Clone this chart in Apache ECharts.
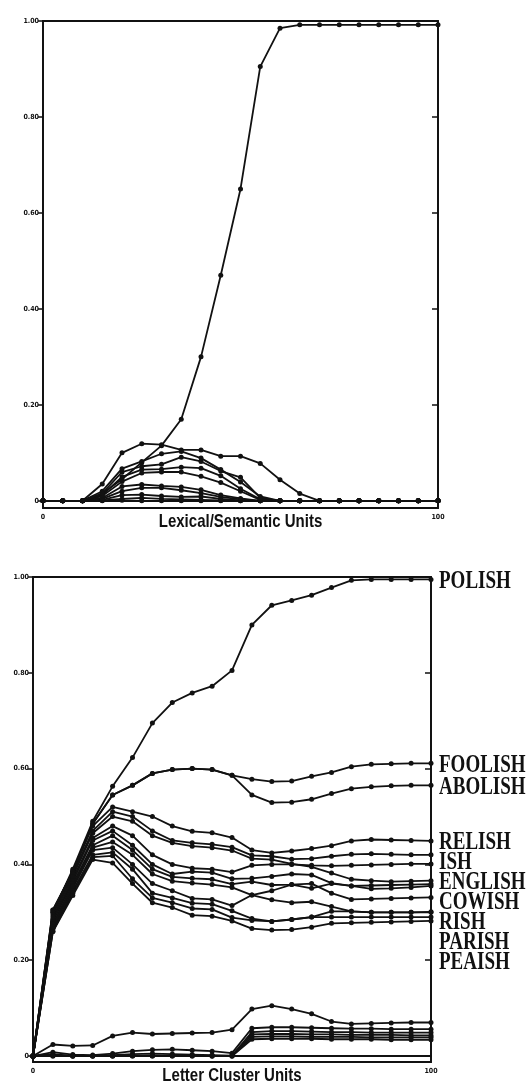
<!DOCTYPE html>
<html>
<head>
<meta charset="utf-8">
<script src="https://cdn.jsdelivr.net/npm/echarts@6/dist/echarts.min.js"></script>
<style>
html,body{margin:0;padding:0;background:#fff;}
#c{width:528px;height:1085px;}
</style>
</head>
<body>
<div id="c"></div>
<script>
// x positions (units)
const units = [0,5,10,15,20,25,30,35,40,45,50,55,60,65,70,75,80,85,90,95,100];
const yTicks = [0,0.2,0.4,0.6,0.8,1.0];
const xTicks = [0,100];
const panelTitles = ['Lexical/Semantic Units', 'Letter Cluster Units'];

// ---- Lexical/Semantic Units (top panel) ----
const lexPolish = [0,0,0,0.015,0.045,0.08,0.115,0.17,0.30,0.47,0.65,0.905,0.985,0.992,0.992,0.992,0.992,0.992,0.992,0.992,0.992];
const lexA = [0,0,0,0.035,0.10,0.119,0.117,0.106,0.106,0.093,0.093,0.078,0.044,0.015,0,0,0,0,0,0,0];
const lexB = [0,0,0,0.02,0.067,0.082,0.098,0.103,0.089,0.065,0.039,0.009,0,0,0,0,0,0,0,0,0];
const lexC = [0,0,0,0.015,0.06,0.072,0.076,0.091,0.082,0.062,0.049,0.006,0,0,0,0,0,0,0,0,0];
const lexD = [0,0,0,0.012,0.05,0.065,0.066,0.07,0.068,0.052,0.025,0.003,0,0,0,0,0,0,0,0,0];
const lexE = [0,0,0,0.01,0.04,0.058,0.06,0.06,0.051,0.038,0.02,0.002,0,0,0,0,0,0,0,0,0];
const lexF = [0,0,0,0.006,0.03,0.034,0.031,0.029,0.023,0.012,0.005,0,0,0,0,0,0,0,0,0,0];
const lexG = [0,0,0,0.004,0.02,0.027,0.027,0.022,0.016,0.008,0.003,0,0,0,0,0,0,0,0,0,0];
const lexH = [0,0,0,0.002,0.012,0.013,0.01,0.008,0.009,0.004,0.001,0,0,0,0,0,0,0,0,0,0];
const lexI = [0,0,0,0.001,0.004,0.006,0.004,0.003,0.002,0.001,0,0,0,0,0,0,0,0,0,0,0];
const lexJ = [0,0,0,0,0.001,0,0,0,0,0,0,0,0,0,0,0,0,0,0,0,0];

// ---- Letter Cluster Units (bottom panel) ----
const letPolish  = [0,0.30,0.39,0.49,0.563,0.623,0.695,0.738,0.758,0.772,0.805,0.90,0.941,0.951,0.962,0.978,0.993,0.995,0.995,0.995,0.995];
const letFoolish = [0,0.305,0.385,0.485,0.545,0.565,0.59,0.598,0.60,0.598,0.586,0.578,0.573,0.574,0.584,0.592,0.604,0.609,0.61,0.611,0.611];
const letAbolish = [0,0.305,0.385,0.485,0.545,0.565,0.59,0.598,0.60,0.598,0.586,0.545,0.529,0.53,0.536,0.548,0.558,0.562,0.564,0.565,0.565];
const letRelish  = [0,0.30,0.385,0.48,0.52,0.51,0.50,0.48,0.469,0.466,0.456,0.43,0.424,0.428,0.433,0.439,0.449,0.452,0.451,0.45,0.449];
const letIsh     = [0,0.295,0.38,0.47,0.51,0.50,0.47,0.45,0.445,0.442,0.436,0.419,0.417,0.411,0.412,0.417,0.421,0.422,0.421,0.42,0.42];
const letCowish  = [0,0.29,0.375,0.465,0.50,0.49,0.46,0.445,0.438,0.435,0.429,0.412,0.41,0.401,0.395,0.382,0.369,0.366,0.364,0.365,0.366];
const letEnglish = [0,0.285,0.37,0.455,0.48,0.46,0.42,0.40,0.392,0.39,0.384,0.398,0.40,0.40,0.398,0.397,0.398,0.399,0.40,0.401,0.401];
const letM5      = [0,0.28,0.365,0.45,0.47,0.44,0.40,0.38,0.385,0.383,0.37,0.371,0.375,0.38,0.378,0.361,0.355,0.349,0.35,0.352,0.355];
const letRish    = [0,0.275,0.36,0.44,0.46,0.43,0.39,0.374,0.371,0.369,0.359,0.364,0.357,0.358,0.36,0.34,0.327,0.328,0.329,0.33,0.331];
const letParish  = [0,0.27,0.355,0.435,0.447,0.42,0.38,0.365,0.361,0.358,0.352,0.336,0.326,0.32,0.322,0.312,0.302,0.30,0.30,0.30,0.301];
const letM8      = [0,0.27,0.35,0.43,0.435,0.40,0.36,0.345,0.329,0.327,0.314,0.336,0.345,0.358,0.35,0.36,0.355,0.356,0.357,0.358,0.359];
const letM9      = [0,0.265,0.345,0.42,0.425,0.39,0.34,0.33,0.319,0.317,0.303,0.287,0.281,0.285,0.29,0.302,0.302,0.30,0.30,0.30,0.30];
const letM10     = [0,0.26,0.34,0.415,0.418,0.37,0.33,0.32,0.308,0.306,0.289,0.283,0.281,0.285,0.29,0.29,0.29,0.29,0.29,0.29,0.29];
const letPeaish  = [0,0.26,0.335,0.41,0.403,0.36,0.32,0.31,0.294,0.292,0.282,0.266,0.263,0.264,0.269,0.277,0.278,0.279,0.28,0.281,0.282];
const letZ1 = [0,0.024,0.021,0.022,0.042,0.049,0.046,0.047,0.048,0.049,0.055,0.098,0.105,0.098,0.088,0.072,0.067,0.068,0.069,0.07,0.07];
const letZ2 = [0,0.008,0.003,0.002,0.005,0.01,0.013,0.014,0.012,0.01,0.006,0.058,0.06,0.06,0.059,0.058,0.057,0.057,0.056,0.056,0.056];
const letZ3 = [0,0.004,0,0,0.002,0.004,0.005,0.004,0.003,0.002,0.001,0.05,0.052,0.052,0.051,0.05,0.05,0.049,0.049,0.049,0.049];
const letZ4 = [0,0.002,0,0,0,0.001,0.001,0.001,0.001,0,0,0.045,0.046,0.046,0.045,0.045,0.044,0.044,0.044,0.043,0.043];
const letZ5 = [0,0,0,0,0,0,0,0,0,0,0,0.04,0.041,0.041,0.04,0.04,0.04,0.039,0.039,0.039,0.039];
const letZ6 = [0,0,0,0,0,0,0,0,0,0,0,0.035,0.036,0.036,0.036,0.035,0.035,0.035,0.034,0.034,0.034];

const labelled = [
  ['POLISH', letPolish], ['FOOLISH', letFoolish], ['ABOLISH', letAbolish],
  ['RELISH', letRelish], ['ISH', letIsh], ['ENGLISH', letEnglish], ['COWISH', letCowish],
  ['RISH', letRish], ['PARISH', letParish], ['PEAISH', letPeaish]
];
const others = [letM5, letM8, letM9, letM10, letZ1, letZ2, letZ3, letZ4, letZ5, letZ6];
const lexAll = [lexJ, lexI, lexH, lexG, lexF, lexE, lexD, lexC, lexB, lexA, lexPolish];

const pairs = arr => arr.map((v, i) => [units[i], v]);
const INK = '#111';
const tickFont = {fontSize: 7, fontWeight: 'bold', color: INK, fontFamily: '"DejaVu Sans Condensed","DejaVu Sans",sans-serif'};

function mkLine(data, xi, yi, name) {
  return {
    type: 'line', name: name || '', xAxisIndex: xi, yAxisIndex: yi, data: pairs(data),
    symbol: 'circle', symbolSize: 5, showSymbol: true,
    lineStyle: {color: INK, width: 1.8}, itemStyle: {color: INK},
    emphasis: {disabled: true}, z: 3
  };
}

function yLeft(gi, min) {
  return {
    type: 'value', gridIndex: gi, position: 'left', min: min, max: 1,
    axisLine: {show: true, lineStyle: {color: INK, width: 1.8}},
    axisTick: {show: true, inside: false, length: 5, lineStyle: {color: INK, width: 1.5}, customValues: yTicks},
    axisLabel: {show: true, margin: 4, customValues: yTicks, formatter: v => v === 0 ? '0' : v.toFixed(2), ...tickFont},
    splitLine: {show: false}
  };
}
function yRight(gi, min) {
  return {
    type: 'value', gridIndex: gi, position: 'right', min: min, max: 1,
    axisLine: {show: true, lineStyle: {color: INK, width: 1.8}},
    axisTick: {show: true, inside: true, length: 6, lineStyle: {color: INK, width: 1.5}, customValues: yTicks},
    axisLabel: {show: false},
    splitLine: {show: false}
  };
}
function xAx(gi) {
  return {
    type: 'value', gridIndex: gi, min: 0, max: 100,
    axisLine: {show: true, lineStyle: {color: INK, width: 1.8}},
    axisTick: {show: false},
    axisLabel: {show: true, customValues: xTicks, margin: 6, formatter: v => String(v), ...tickFont},
    splitLine: {show: false}
  };
}

const series = [];
lexAll.forEach(d => series.push(mkLine(d, 0, 0)));
others.forEach(d => series.push(mkLine(d, 1, 2)));
labelled.forEach(([n, d]) => series.push(mkLine(d, 1, 2, n)));

const yMins = [-0.015, -0.0125];
const chart = echarts.init(document.getElementById('c'), null, {renderer: 'canvas'});
chart.setOption({
  animation: false,
  backgroundColor: '#fff',
  grid: [
    {left: 43, right: 90, top: 21, height: 487, show: true, borderColor: INK, borderWidth: 1.8, backgroundColor: 'transparent'},
    {left: 33, right: 97, top: 577, height: 485, show: true, borderColor: INK, borderWidth: 1.8, backgroundColor: 'transparent'}
  ],
  xAxis: [xAx(0), xAx(1)],
  yAxis: [yLeft(0, yMins[0]), yRight(0, yMins[0]), yLeft(1, yMins[1]), yRight(1, yMins[1])],
  series: series
});

const graphics = [];
// condensed panel titles under each x axis
panelTitles.forEach((t, gi) => {
  const p = chart.convertToPixel({xAxisIndex: gi, yAxisIndex: gi * 2}, [50, yMins[gi]]);
  graphics.push({
    type: 'text', x: p[0], y: p[1] + 14, scaleX: 0.79, originX: 0, z: 10,
    style: {text: t, fill: INK, font: 'bold 19px "Liberation Sans","DejaVu Sans",sans-serif',
            align: 'center', verticalAlign: 'middle', textAlign: 'center', textVerticalAlign: 'middle'}
  });
});

// word labels to the right of the bottom panel, anchored at each line's end, spread apart
const pos = labelled.map(([n, d]) => {
  const p = chart.convertToPixel({xAxisIndex: 1, yAxisIndex: 2}, [100, d[d.length - 1]]);
  return {n: n, x: p[0], y: p[1]};
}).sort((a, b) => a.y - b.y);
const GAP = 20;
for (let k = 1; k < pos.length; k++) {
  if (pos[k].y - pos[k - 1].y < GAP) pos[k].y = pos[k - 1].y + GAP;
}
pos.forEach(p => graphics.push({
  type: 'text', x: p.x + 8, y: p.y + 2, scaleX: 0.76, z: 10,
  style: {text: p.n, fill: INK, font: 'bold 25px "Liberation Serif","DejaVu Serif",serif',
          align: 'left', verticalAlign: 'middle', textAlign: 'left', textVerticalAlign: 'middle'}
}));
chart.setOption({graphic: graphics});
</script>
</body>
</html>
